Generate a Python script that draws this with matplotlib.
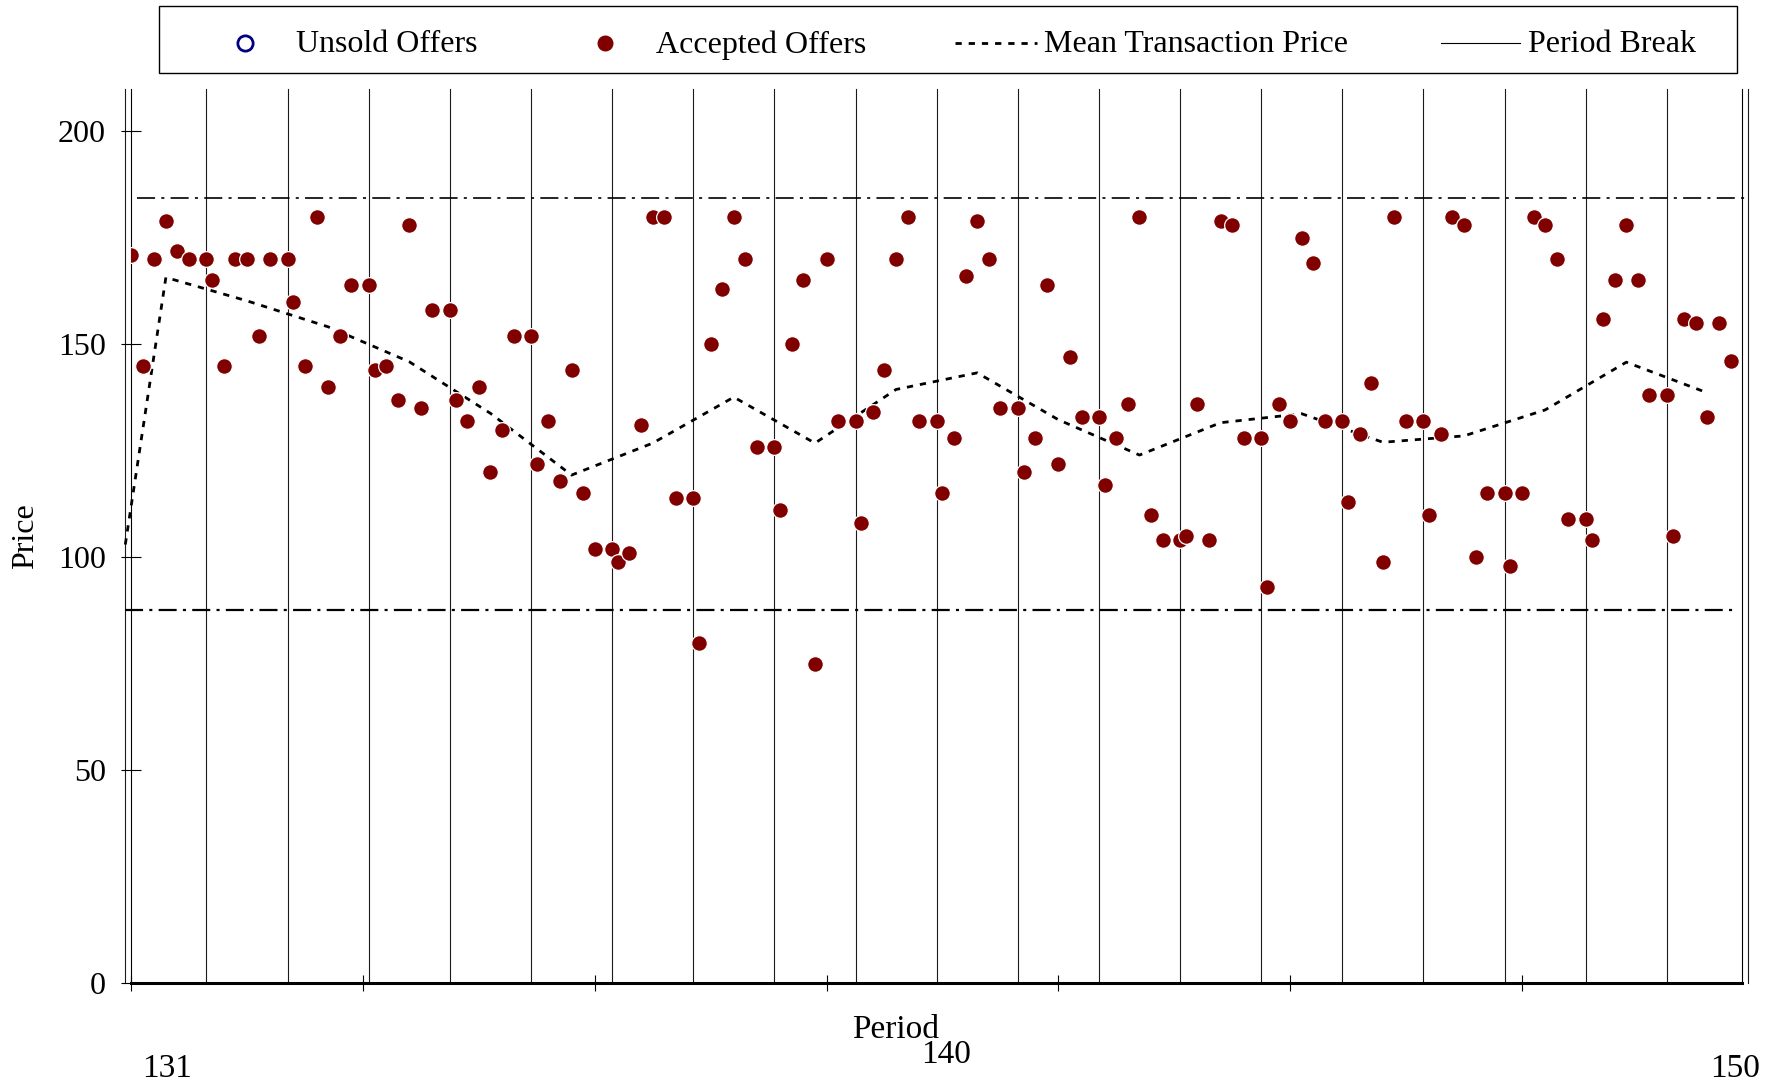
import matplotlib
matplotlib.use("Agg")
import matplotlib.pyplot as plt
import matplotlib.transforms as mtransforms
from matplotlib.lines import Line2D
from matplotlib.patches import Rectangle

plt.rcParams["font.family"] = ["Liberation Serif", "DejaVu Serif"]
plt.rcParams["lines.scale_dashes"] = False

W, H, DPI = 1780, 1087, 100

# ---------------- data ----------------
first_period = 131
last_period = 150
# accepted offer prices, one list per period (trade order)
accepted = [
    [171, 145, 170, 179, 172, 170, 170],
    [165, 145, 170, 170, 152, 170, 170],
    [160, 145, 180, 140, 152, 164, 164],
    [144, 145, 137, 178, 135, 158, 158],
    [137, 132, 140, 120, 130, 152, 152],
    [122, 132, 118, 144, 115, 102, 102],
    [99, 101, 131, 180, 180, 114, 114],
    [80, 150, 163, 180, 170, 126, 126],
    [111, 150, 165, 75, 170, 132, 132],
    [108, 134, 144, 170, 180, 132, 132],
    [115, 128, 166, 179, 170, 135, 135],
    [120, 128, 164, 122, 147, 133, 133],
    [117, 128, 136, 180, 110, 104, 104],
    [105, 136, 104, 179, 178, 128, 128],
    [93, 136, 132, 175, 169, 132, 132],
    [113, 129, 141, 99, 180, 132, 132],
    [110, 129, 180, 178, 100, 115, 115],
    [98, 115, 180, 178, 170, 109, 109],
    [104, 156, 165, 178, 165, 138, 138],
    [105, 156, 155, 133, 155, 146],
]
# time slot of each trade inside a period (in trade units)
trade_slot = [0, 1, 2, 3, 4, 5, 6.5]
trades_per_period = 7
# mean transaction price per period (plus the value carried in from the previous period)
mean_prev = 103
mean_price = [165.7, 160.2, 154.1, 145.9, 133.8, 119.3, 126.8, 137.6, 126.8, 139.4,
              143.3, 132.3, 124.0, 131.6, 133.7, 127.0, 128.5, 134.6, 145.8, 138.6]
# reference price levels (dash-dot lines)
upper_level = 184.3
lower_level = 87.6

y_ticks = [0, 50, 100, 150, 200]
x_ticks = [0, 20, 40, 60, 80, 100, 120]
period_labels = ["131", "140", "150"]

# ---------------- figure ----------------
fig = plt.figure(figsize=(W / DPI, H / DPI), dpi=DPI)
# pixel transform (x from left, y from top)
pix = mtransforms.Affine2D().scale(1.0 / W, -1.0 / H).translate(0, 1) + fig.transFigure

x0_px, x1_px = 131.1, 1742.2
y0_px, y1_px = 983.3, 88.7
ax = fig.add_axes([x0_px / W, 1 - y0_px / H, (x1_px - x0_px) / W, (y0_px - y1_px) / H])
ax.set_xlim(0, 139)
ax.set_ylim(0, 210)

n_periods = last_period - first_period + 1
# period breaks
for p in range(n_periods + 1):
    xb = trades_per_period * p - 0.5
    ax.plot([xb, xb], [0, 210], color="#1a1a1a", lw=0.8, clip_on=False, zorder=1)

# reference levels
ax.plot([0.5, 139.3], [upper_level] * 2, color="black", lw=1.2,
        linestyle=(0, (13, 4.5, 2.2, 4.5)), clip_on=False, zorder=2)
ax.plot([-0.5, 138.4], [lower_level] * 2, color="black", lw=1.6,
        linestyle=(0, (13, 4.5, 2.2, 4.5)), clip_on=False, zorder=2)

# mean transaction price
mx = [-0.5] + [trades_per_period * p + 3 for p in range(n_periods)]
my = [mean_prev] + mean_price
ax.plot(mx, my, color="black", lw=2.0, linestyle=(0, (4.5, 5.0)), zorder=3, clip_on=False)

# accepted offers
xs, ys = [], []
for p, vals in enumerate(accepted):
    for j, v in enumerate(vals):
        xs.append(trades_per_period * p + trade_slot[j])
        ys.append(v)
ax.scatter(xs, ys, s=128, color="#800000", edgecolors="white", linewidths=0.9, zorder=4)

# axes styling
ax.spines["top"].set_visible(False)
ax.spines["left"].set_linewidth(0.8)
ax.spines["right"].set_linewidth(0.8)
ax.spines["bottom"].set_linewidth(2.2)
ax.set_xticks(x_ticks)
ax.set_xticklabels([])
ax.set_yticks(y_ticks)
ax.tick_params(axis="x", direction="inout", length=11, width=0.8)
ax.tick_params(axis="y", direction="inout", length=15, width=0.8, pad=10.5, labelsize=23)
ax.set_facecolor("white")

# axis texts
fs = 23
fig.text(26 / W, 1 - 536 / H, "Price", rotation=90, ha="center", va="center", fontsize=fs)
fig.text(895.5 / W, 1 - 1038 / H, "Period", ha="center", va="baseline", fontsize=24)
for lab, cx, by in zip(period_labels, [167.5, 946, 1735.5], [1077, 1063, 1077]):
    fig.text(cx / W, 1 - by / H, lab, ha="center", va="baseline", fontsize=24)

# legend (drawn in pixel space)
fig.patches.append(Rectangle((159, 6), 1737 - 159, 66.5, transform=pix, fill=False,
                             edgecolor="black", lw=1.0))
ly = 42.5
lb = 52.5
fig.lines.append(Line2D([245], [ly], transform=pix, marker="o", ms=11, mfc="none",
                        mec="#000080", mew=2.0, ls="none"))
fig.text(295.5 / W, 1 - lb / H, "Unsold Offers", ha="left", va="baseline", fontsize=fs)
fig.lines.append(Line2D([605], [ly], transform=pix, marker="o", ms=10.5, mfc="#800000",
                        mec="#800000", ls="none"))
fig.text(655.5 / W, 1 - lb / H, "Accepted Offers", ha="left", va="baseline", fontsize=fs)
fig.lines.append(Line2D([955, 1037], [ly, ly], transform=pix, color="black", lw=2.0,
                        linestyle=(0, (4.5, 5.0))))
fig.text(1043.5 / W, 1 - lb / H, "Mean Transaction Price", ha="left", va="baseline", fontsize=fs)
fig.lines.append(Line2D([1441, 1520], [ly, ly], transform=pix, color="black", lw=0.8))
fig.text(1527.5 / W, 1 - lb / H, "Period Break", ha="left", va="baseline", fontsize=fs)

fig.savefig("out.png", dpi=DPI, facecolor="white")
